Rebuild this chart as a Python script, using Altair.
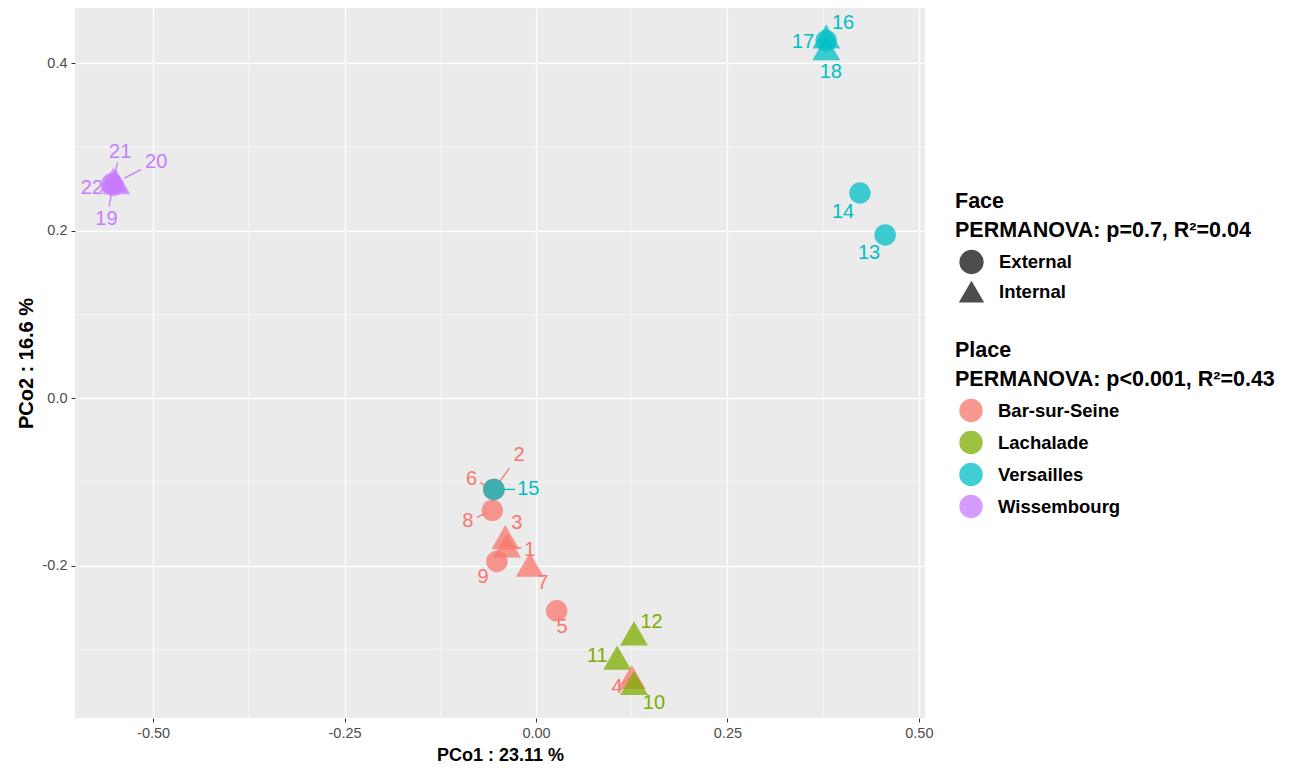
import altair as alt
import pandas as pd

# ---- data ----
ids = [str(i) for i in range(1, 23)]
place = (["Bar-sur-Seine"] * 9 + ["Lachalade"] * 3 +
         ["Versailles"] * 6 + ["Wissembourg"] * 4)
face = ["Internal", "External", "Internal", "Internal", "External", "External",
        "Internal", "External", "External",
        "Internal", "Internal", "Internal",
        "External", "External", "External", "Internal", "External", "Internal",
        "External", "Internal", "Internal", "External"]
pco1 = [-0.038, -0.055, -0.040, 0.125, 0.027, -0.055, -0.008, -0.057, -0.051,
        0.128, 0.106, 0.128,
        0.456, 0.423, -0.055, 0.379, 0.379, 0.379,
        -0.552, -0.548, -0.552, -0.554]
pco2 = [-0.176, -0.109, -0.166, -0.333, -0.254, -0.109, -0.199, -0.134, -0.195,
        -0.340, -0.310, -0.281,
        0.195, 0.245, -0.109, 0.432, 0.427, 0.418,
        0.254, 0.258, 0.261, 0.256]
lab_x = [-0.008, -0.022, -0.025, 0.106, 0.034, -0.084, 0.009, -0.089, -0.069,
         0.154, 0.080, 0.151,
         0.435, 0.401, -0.010, 0.401, 0.349, 0.385,
         -0.561, -0.496, -0.543, -0.580]
lab_y = [-0.181, -0.068, -0.149, -0.345, -0.273, -0.096, -0.221, -0.147, -0.213,
         -0.364, -0.308, -0.267,
         0.173, 0.222, -0.109, 0.448, 0.425, 0.390,
         0.214, 0.282, 0.294, 0.251]
has_segment = [True, True, False, True, False, True, False, True, False,
               False, False, False,
               False, False, True, False, False, False,
               True, True, True, False]

place_levels = ["Bar-sur-Seine", "Lachalade", "Versailles", "Wissembourg"]
place_colors = ["#F8766D", "#7CAE00", "#00BFC4", "#C77CFF"]
face_levels = ["External", "Internal"]
face_shapes = ["circle", "triangle-up"]

x_major = [-0.5, -0.25, 0.0, 0.25, 0.5]
x_minor = [-0.375, -0.125, 0.125, 0.375]
y_major = [-0.2, 0.0, 0.2, 0.4]
y_minor = [-0.3, -0.1, 0.1, 0.3]
x_domain = [-0.602, 0.508]
y_domain = [-0.382, 0.466]

face_title = ["Face", "PERMANOVA: p=0.7, R²=0.04"]
place_title = ["Place", "PERMANOVA: p<0.001, R²=0.43"]
x_title = "PCo1 : 23.11 %"
y_title = "PCo2 : 16.6 %"

df = pd.DataFrame({
    "id": ids, "place": place, "face": face,
    "pco1": pco1, "pco2": pco2, "lab_x": lab_x, "lab_y": lab_y,
    "seg": has_segment,
})
minor_x_df = pd.DataFrame({"v": x_minor})
minor_y_df = pd.DataFrame({"v": y_minor})

FONT = "Liberation Sans"

xscale = alt.Scale(domain=x_domain, nice=False, zero=False)
yscale = alt.Scale(domain=y_domain, nice=False, zero=False)
cscale = alt.Scale(domain=place_levels, range=place_colors)

x_axis = alt.Axis(values=x_major, title=x_title, titleFontSize=18,
                  labelExpr="(datum.value < 0 ? '-' : '') + format(abs(datum.value), '.2f')")
y_axis = alt.Axis(values=y_major, title=y_title, titleFontSize=20,
                  labelExpr="(datum.value < 0 ? '-' : '') + format(abs(datum.value), '.1f')")

color_legend = alt.Legend(
    title=place_title, orient="none", legendX=880, legendY=332,
    symbolType="circle", symbolSize=480, symbolOpacity=0.75,
    rowPadding=4, titlePadding=8, labelOffset=15, symbolOffset=4)
shape_legend = alt.Legend(
    title=face_title, orient="none", legendX=880, legendY=183,
    symbolSize=520, symbolFillColor="#4D4D4D",
    symbolStrokeColor="#4D4D4D", symbolOpacity=1,
    rowPadding=2, titlePadding=8, labelOffset=15, symbolOffset=4)

color_enc = alt.Color("place:N", scale=cscale, legend=color_legend)

minor_v = alt.Chart(minor_x_df).mark_rule(color="white", strokeWidth=0.6).encode(
    x=alt.X("v:Q", scale=xscale, axis=x_axis))
minor_h = alt.Chart(minor_y_df).mark_rule(color="white", strokeWidth=0.6).encode(
    y=alt.Y("v:Q", scale=yscale, axis=y_axis))

base = alt.Chart(df)

segments = base.transform_filter("datum.seg").transform_calculate(
    sx1="datum.pco1 + 0.2*(datum.lab_x - datum.pco1)",
    sy1="datum.pco2 + 0.2*(datum.lab_y - datum.pco2)",
    sx2="datum.pco1 + 0.62*(datum.lab_x - datum.pco1)",
    sy2="datum.pco2 + 0.62*(datum.lab_y - datum.pco2)",
).mark_rule(strokeWidth=1.3).encode(
    x=alt.X("sx1:Q", scale=xscale, axis=x_axis),
    y=alt.Y("sy1:Q", scale=yscale, axis=y_axis),
    x2="sx2:Q", y2="sy2:Q",
    color=color_enc,
)

points = base.mark_point(filled=True, opacity=0.75).encode(
    x=alt.X("pco1:Q", scale=xscale, axis=x_axis),
    y=alt.Y("pco2:Q", scale=yscale, axis=y_axis),
    color=color_enc,
    shape=alt.Shape("face:N", scale=alt.Scale(domain=face_levels, range=face_shapes),
                    legend=shape_legend),
    size=alt.condition("datum.face == 'Internal'", alt.value(780), alt.value(460)),
)

labels = base.mark_text(font=FONT, fontSize=20, align="center", baseline="middle").encode(
    x=alt.X("lab_x:Q", scale=xscale, axis=x_axis),
    y=alt.Y("lab_y:Q", scale=yscale, axis=y_axis),
    text="id:N",
    color=color_enc,
)

chart = alt.layer(minor_v, minor_h, segments, points, labels).properties(
    width=850, height=710,
    autosize=alt.AutoSizeParams(type="none"),
    padding={"left": 67, "top": 0, "right": 377, "bottom": 47},
).configure_view(
    fill="#EBEBEB", stroke=None,
).configure_axis(
    grid=True, gridColor="white", gridWidth=1.4,
    domain=False, tickColor="#333333", tickSize=4, tickWidth=1,
    labelFont=FONT, labelFontSize=14.5, labelColor="#4D4D4D", labelPadding=4,
    titleFont=FONT, titleFontWeight="bold", titleColor="black",
).configure_axisX(titlePadding=7).configure_axisY(titlePadding=6).configure_legend(
    titleFont=FONT, titleFontSize=21.5, titleFontWeight="bold", titleColor="black",
    titleLineHeight=29, titleLimit=500,
    labelFont=FONT, labelFontSize=18.5, labelFontWeight="bold", labelColor="black",
    padding=0,
)

chart.save("out.html", embed_options={"renderer": "svg", "actions": False})
